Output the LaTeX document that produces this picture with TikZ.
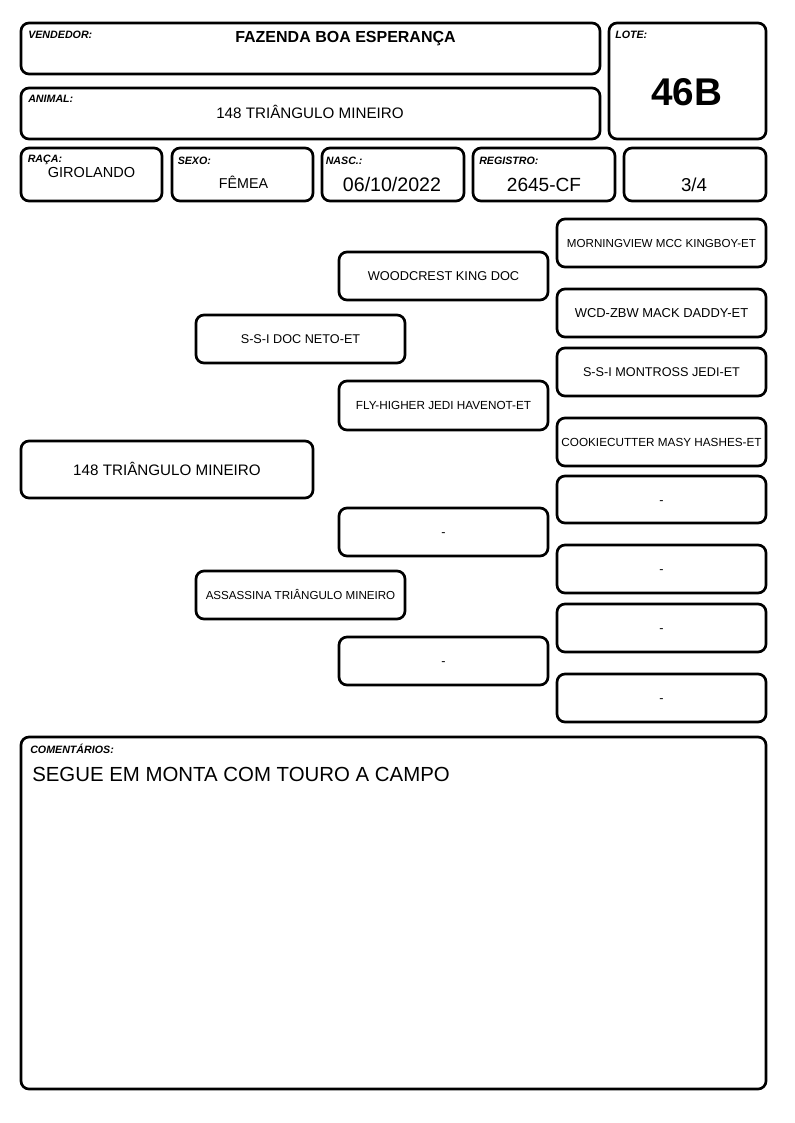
\documentclass[tikz,border=0pt]{standalone}
\usepackage{fontspec}
\setmainfont{Liberation Sans}
\begin{document}
\begin{tikzpicture}[x=0.75pt,y=-0.75pt,
    fichaBox/.style={draw,line width=2pt,rounded corners=6pt},
    fichaLbl/.style={anchor=base west,inner sep=0pt,font=\fontsize{8}{9}\selectfont\bfseries\itshape},
    fichaVal/.style={anchor=base,inner sep=0pt},
    pedTxt/.style={anchor=base,inner sep=0pt,font=\fontsize{9.5}{11}\selectfont},
    pedSmall/.style={pedTxt,font=\fontsize{8.7}{10}\selectfont},
]
\useasboundingbox (0,0) rectangle (794,1123);
% Header
\draw[fichaBox] (21,23) rectangle (600,74);
\node[fichaLbl] (lblVend) at (28,39) {VENDEDOR:};
\node[fichaVal,font=\fontsize{12}{14}\selectfont\bfseries] (vend) at (345.5,43) {FAZENDA BOA ESPERANÇA};
\draw[fichaBox] (21,88) rectangle (600,139);
\node[fichaLbl] (lblAnimal) at (28,103) {ANIMAL:};
\node[fichaVal,font=\fontsize{11.4}{13}\selectfont] (animal) at (310,119) {148 TRIÂNGULO MINEIRO};
\draw[fichaBox] (609,23) rectangle (766,139);
\node[fichaLbl] (lblLote) at (615,39) {LOTE:};
\node[fichaVal,font=\fontsize{29}{34}\selectfont\bfseries] (lote) at (686.5,105.7) {46B};
% Data row
\draw[fichaBox] (21,148) rectangle (162,201);
\node[fichaLbl] (lblRaca) at (27.5,163) {RAÇA:};
\node[fichaVal,font=\fontsize{10.9}{13}\selectfont] (raca) at (91.5,178) {GIROLANDO};
\draw[fichaBox] (172,148) rectangle (313,201);
\node[fichaLbl] (lblSexo) at (177.5,165) {SEXO:};
\node[fichaVal,font=\fontsize{10.7}{13}\selectfont] (sexo) at (243.5,189) {FÊMEA};
\draw[fichaBox] (322,148) rectangle (464,201);
\node[fichaLbl] (lblNasc) at (325.5,165) {NASC.:};
\node[fichaVal,font=\fontsize{14.7}{17}\selectfont] (nasc) at (392,191.5) {06/10/2022};
\draw[fichaBox] (473,148) rectangle (615,201);
\node[fichaLbl] (lblReg) at (479,165) {REGISTRO:};
\node[fichaVal,font=\fontsize{14.3}{17}\selectfont] (reg) at (544,191.5) {2645-CF};
\draw[fichaBox] (624,148) rectangle (766,201);
\node[fichaVal,font=\fontsize{14}{17}\selectfont] (grau) at (694,191.5) {3/4};
% Pedigree: animal
\draw[fichaBox] (21,441) rectangle (313,498);
\node[pedTxt,font=\fontsize{11.4}{13}\selectfont] (ped) at (167,475) {148 TRIÂNGULO MINEIRO};
% Parents
\draw[fichaBox] (196,315) rectangle (405,363);
\node[pedTxt] (pai) at (300.5,343.5) {S-S-I DOC NETO-ET};
\draw[fichaBox] (196,571) rectangle (405,619);
\node[pedSmall] (mae) at (300.5,599.2) {ASSASSINA TRIÂNGULO MINEIRO};
% Grandparents
\draw[fichaBox] (339,252) rectangle (548,300);
\node[pedTxt,font=\fontsize{9.6}{11}\selectfont] (avoPP) at (443.5,280.6) {WOODCREST KING DOC};
\draw[fichaBox] (339,381) rectangle (548,430);
\node[pedSmall,font=\fontsize{8.8}{10}\selectfont] (avoPM) at (443.5,409.7) {FLY-HIGHER JEDI HAVENOT-ET};
\draw[fichaBox] (339,508) rectangle (548,556);
\node[pedTxt] (avoMP) at (443.5,536.5) {-};
\draw[fichaBox] (339,637) rectangle (548,685);
\node[pedTxt] (avoMM) at (443.5,665.5) {-};
% Great-grandparents
\draw[fichaBox] (557,219) rectangle (766,267);
\node[pedSmall] (bisA) at (661.5,247.2) {MORNINGVIEW MCC KINGBOY-ET};
\draw[fichaBox] (557,289) rectangle (766,337);
\node[pedTxt,font=\fontsize{9.7}{11}\selectfont] (bisB) at (661.5,317.6) {WCD-ZBW MACK DADDY-ET};
\draw[fichaBox] (557,348) rectangle (766,396);
\node[pedTxt] (bisC) at (661.5,376.5) {S-S-I MONTROSS JEDI-ET};
\draw[fichaBox] (557,418) rectangle (766,466);
\node[pedSmall,font=\fontsize{8.8}{10}\selectfont] (bisD) at (661.5,446.2) {COOKIECUTTER MASY HASHES-ET};
\draw[fichaBox] (557,476) rectangle (766,523);
\node[pedTxt] (bisE) at (661.5,504) {-};
\draw[fichaBox] (557,545) rectangle (766,593);
\node[pedTxt] (bisF) at (661.5,573.5) {-};
\draw[fichaBox] (557,604) rectangle (766,652);
\node[pedTxt] (bisG) at (661.5,632.5) {-};
\draw[fichaBox] (557,674) rectangle (766,722);
\node[pedTxt] (bisH) at (661.5,702.5) {-};
% Comments
\draw[fichaBox] (21,737) rectangle (766,1089);
\node[fichaLbl] (lblObs) at (30,753) {COMENTÁRIOS:};
\node[fichaVal,anchor=base west,font=\fontsize{15.3}{18}\selectfont] (obs) at (32,781.7) {SEGUE EM MONTA COM TOURO A CAMPO};
\end{tikzpicture}
\end{document}
